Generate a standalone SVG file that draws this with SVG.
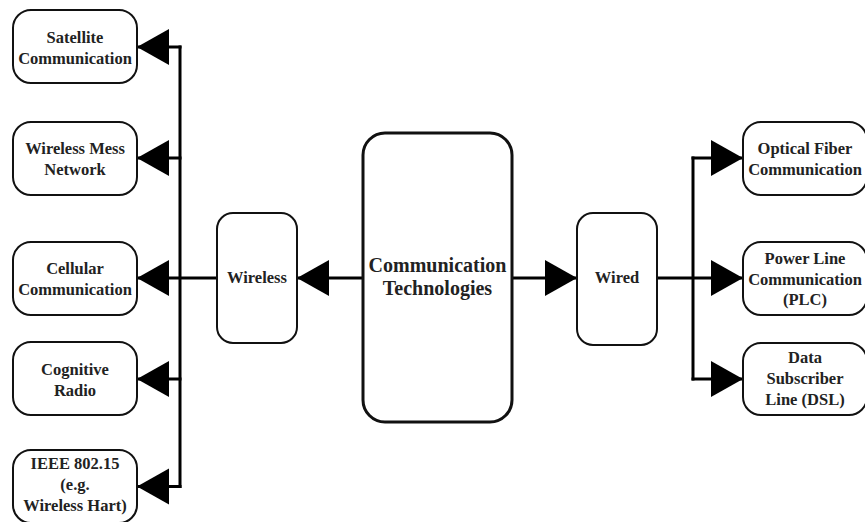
<svg xmlns="http://www.w3.org/2000/svg" width="865" height="522" viewBox="0 0 865 522">
  <defs>
    <marker id="arrow" markerUnits="userSpaceOnUse" markerWidth="33" markerHeight="37" refX="32" refY="18" orient="auto">
      <path d="M0,0 L32,18 L0,36 Z" fill="#000"/>
    </marker>
    <style>
      .box { fill: #fff; stroke: #111; stroke-width: 2; }
      .main { fill: #fff; stroke: #111; stroke-width: 3; }
      text { font-family: "Liberation Serif", "Times New Roman", serif; }
      .lbl { font-weight: 700; font-size: 16.5px; fill: #222; text-anchor: middle; }
      .big { font-size: 20px; }
      .wire { fill: none; stroke: #000; stroke-width: 3; }
    </style>
  </defs>
  <rect width="865" height="522" fill="#fff"/>

  <!-- connectors -->
  <g id="connectors">
    <line class="wire" x1="180" y1="45.5" x2="180" y2="488"/>
    <line class="wire" x1="181.5" y1="47" x2="137" y2="47" marker-end="url(#arrow)"/>
    <line class="wire" x1="181.5" y1="158" x2="137" y2="158" marker-end="url(#arrow)"/>
    <line class="wire" x1="217" y1="278" x2="137" y2="278" marker-end="url(#arrow)"/>
    <line class="wire" x1="181.5" y1="379" x2="137" y2="379" marker-end="url(#arrow)"/>
    <line class="wire" x1="181.5" y1="486.5" x2="137" y2="486.5" marker-end="url(#arrow)"/>
    <line class="wire" x1="363" y1="278" x2="297" y2="278" marker-end="url(#arrow)"/>
    <line class="wire" x1="512" y1="278" x2="577" y2="278" marker-end="url(#arrow)"/>
    <line class="wire" x1="693" y1="156.5" x2="693" y2="380.5"/>
    <line class="wire" x1="691.5" y1="158" x2="743" y2="158" marker-end="url(#arrow)"/>
    <line class="wire" x1="657" y1="278" x2="743" y2="278" marker-end="url(#arrow)"/>
    <line class="wire" x1="691.5" y1="379" x2="743" y2="379" marker-end="url(#arrow)"/>
  </g>

  <!-- central node -->
  <g id="comm-tech">
    <rect class="main" x="363" y="133" width="149" height="289" rx="22"/>
    <text class="lbl big" x="437.5" y="272">Communication</text>
    <text class="lbl big" x="437.5" y="295">Technologies</text>
  </g>

  <g id="wireless">
    <rect class="box" x="217" y="213" width="80" height="130" rx="16"/>
    <text class="lbl" x="257" y="283">Wireless</text>
  </g>

  <g id="wired">
    <rect class="box" x="577" y="213" width="80" height="132" rx="16"/>
    <text class="lbl" x="617" y="283">Wired</text>
  </g>

  <!-- wireless technologies -->
  <g id="satellite">
    <rect class="box" x="13" y="10" width="124" height="73" rx="18"/>
    <text class="lbl" x="75" y="43">Satellite</text>
    <text class="lbl" x="75" y="64">Communication</text>
  </g>

  <g id="mesh">
    <rect class="box" x="13" y="122" width="124" height="73" rx="18"/>
    <text class="lbl" x="75" y="154">Wireless Mess</text>
    <text class="lbl" x="75" y="175">Network</text>
  </g>

  <g id="cellular">
    <rect class="box" x="13" y="242" width="124" height="73" rx="18"/>
    <text class="lbl" x="75" y="274">Cellular</text>
    <text class="lbl" x="75" y="295">Communication</text>
  </g>

  <g id="cognitive">
    <rect class="box" x="13" y="342" width="124" height="73" rx="18"/>
    <text class="lbl" x="75" y="375">Cognitive</text>
    <text class="lbl" x="75" y="396">Radio</text>
  </g>

  <g id="ieee">
    <rect class="box" x="13" y="450" width="124" height="73" rx="18"/>
    <text class="lbl" x="75" y="469">IEEE 802.15</text>
    <text class="lbl" x="75" y="490">(e.g.</text>
    <text class="lbl" x="75" y="511">Wireless Hart)</text>
  </g>

  <!-- wired technologies -->
  <g id="optical">
    <rect class="box" x="743" y="122" width="124" height="73" rx="18"/>
    <text class="lbl" x="805" y="154">Optical Fiber</text>
    <text class="lbl" x="805" y="175">Communication</text>
  </g>

  <g id="plc">
    <rect class="box" x="743" y="242" width="124" height="73" rx="18"/>
    <text class="lbl" x="805" y="264">Power Line</text>
    <text class="lbl" x="805" y="285">Communication</text>
    <text class="lbl" x="805" y="305">(PLC)</text>
  </g>

  <g id="dsl">
    <rect class="box" x="743" y="343" width="124" height="72" rx="18"/>
    <text class="lbl" x="805" y="363">Data</text>
    <text class="lbl" x="805" y="384">Subscriber</text>
    <text class="lbl" x="805" y="405">Line (DSL)</text>
  </g>
</svg>
